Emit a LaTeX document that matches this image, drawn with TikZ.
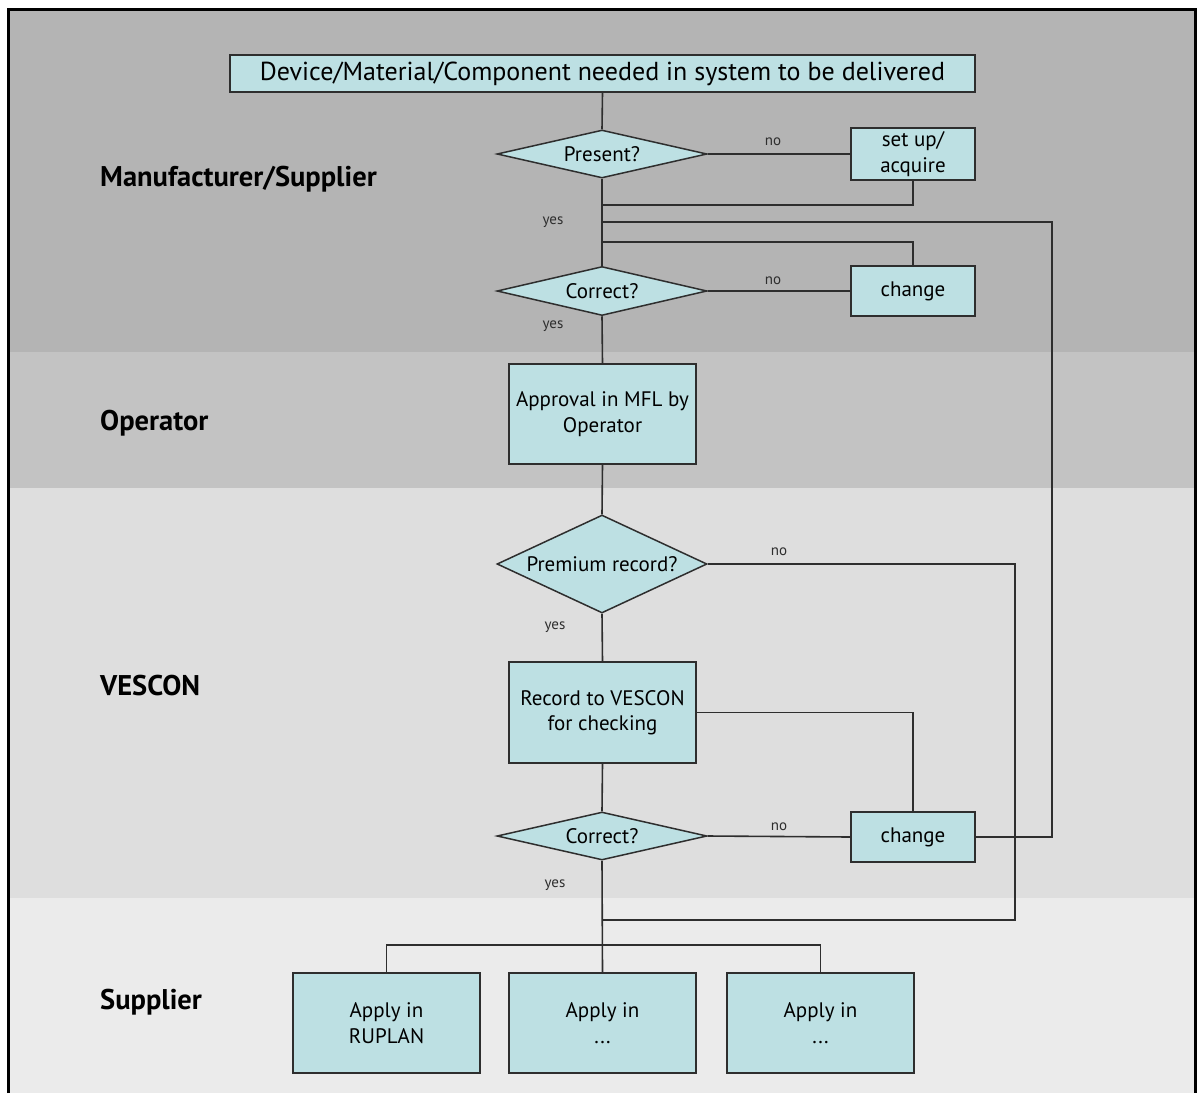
\documentclass[tikz,border=0pt]{standalone}
\usepackage{fontspec}
\setmainfont{PT Sans}
\usetikzlibrary{shapes.geometric}
\definecolor{bandA}{HTML}{B4B4B4}
\definecolor{bandB}{HTML}{C3C3C3}
\definecolor{bandC}{HTML}{DEDEDE}
\definecolor{bandD}{HTML}{EBEBEB}
\definecolor{boxc}{HTML}{BDE0E3}
\definecolor{linec}{HTML}{2E2E2E}
\begin{document}
\begin{tikzpicture}[x=1pt,y=-1pt,
  box/.style={draw=linec, line width=1.5pt, fill=boxc, align=center, inner sep=0pt,
    font=\fontsize{21}{25.5}\selectfont},
  dec/.style={diamond, draw=linec, line width=1.5pt, fill=boxc, inner sep=0pt,
    font=\fontsize{21}{25}\selectfont},
  conn/.style={draw=linec, line width=1.6pt},
  lbl/.style={font=\fontsize{15}{17}\selectfont, text=linec},
  lane/.style={font=\bfseries\fontsize{28.5}{32}\selectfont, anchor=west, inner sep=0pt}]
\useasboundingbox (0,0) rectangle (1197,1093);
\fill[white] (0,0) rectangle (1197,1093);
% bands
\fill[bandA] (9,9) rectangle (1195,352);
\fill[bandB] (9,352) rectangle (1195,488);
\fill[bandC] (9,488) rectangle (1195,898);
\fill[bandD] (9,898) rectangle (1195,1093);
\draw[line width=3pt, black] (8.5,1093) -- (8.5,9.5) -- (1195,9.5) -- (1195,1093);
% lane labels
\node[lane] (l1) at (100,179) {Manufacturer/Supplier};
\node[lane] (l2) at (100,423) {Operator};
\node[lane] (l3) at (100,686) {VESCON};
\node[lane] (l4) at (100,1002) {Supplier};
% nodes
\node[box, minimum width=745pt, minimum height=37pt, font=\fontsize{26}{30}\selectfont] (top) at (602.5,73.5) {Device/Material/Component needed in system to be delivered};
\node[dec, minimum width=210pt, minimum height=48pt, aspect=4.4] (present) at (602,154) {Present?};
\node[box, minimum width=124pt, minimum height=52pt] (setup) at (913,154) {set up/\\acquire};
\node[dec, minimum width=210pt, minimum height=49pt, aspect=4.4] (correct1) at (602,291) {Correct?};
\node[box, minimum width=124pt, minimum height=50pt] (change1) at (913,291) {change};
\node[box, minimum width=187pt, minimum height=100pt] (approval) at (602.5,414) {Approval in MFL by\\Operator};
\node[dec, minimum width=210pt, minimum height=98pt, aspect=2.14] (premium) at (602,564) {Premium record?};
\node[box, minimum width=187pt, minimum height=101pt] (record) at (602.5,712.5) {Record to VESCON\\for checking};
\node[dec, minimum width=210pt, minimum height=48pt, aspect=4.4] (correct2) at (602,836) {Correct?};
\node[box, minimum width=124pt, minimum height=50pt] (change2) at (913,837) {change};
\node[box, minimum width=187pt, minimum height=100pt] (apply1) at (386.5,1023) {Apply in\\RUPLAN};
\node[box, minimum width=187pt, minimum height=100pt] (apply2) at (602.5,1023) {Apply in\\...};
\node[box, minimum width=187pt, minimum height=100pt] (apply3) at (820.5,1023) {Apply in\\...};
% junction coordinates
\coordinate (j1) at (602.5,205);
\coordinate (j2) at (602.5,222);
\coordinate (j3) at (602.5,242);
\coordinate (j4) at (602.5,920);
\coordinate (br) at (602.5,945);
\coordinate (rx) at (1052,837);
\coordinate (px) at (1015,564);
% connectors
\draw[conn] (top.south) -- (present.north);
\draw[conn] (present.east) -- (setup.west);
\draw[conn] (present.south) -- (correct1.north);
\draw[conn] (setup.south) |- (j1);
\draw[conn] (change2.east) -- (rx) |- (j2);
\draw[conn] (change1.north) |- (j3);
\draw[conn] (correct1.east) -- (change1.west);
\draw[conn] (correct1.south) -- (approval.north);
\draw[conn] (approval.south) -- (premium.north);
\draw[conn] (premium.south) -- (record.north);
\draw[conn] (premium.east) -- (px) |- (j4);
\draw[conn] (record.south) -- (correct2.north);
\draw[conn] (record.east) -| (change2.north);
\draw[conn] (correct2.east) -- (change2.west);
\draw[conn] (correct2.south) -- (apply2.north);
\draw[conn] (apply1.north) |- (br) -| (apply3.north);
% labels
\node[lbl] (n1) at (773,142) {no};
\node[lbl] (n2) at (773,281) {no};
\node[lbl] (n3) at (779,552) {no};
\node[lbl] (n4) at (779,827) {no};
\node[lbl] (y1) at (553,222) {yes};
\node[lbl] (y2) at (553,326) {yes};
\node[lbl] (y3) at (555,627) {yes};
\node[lbl] (y4) at (555,885) {yes};
\end{tikzpicture}
\end{document}
